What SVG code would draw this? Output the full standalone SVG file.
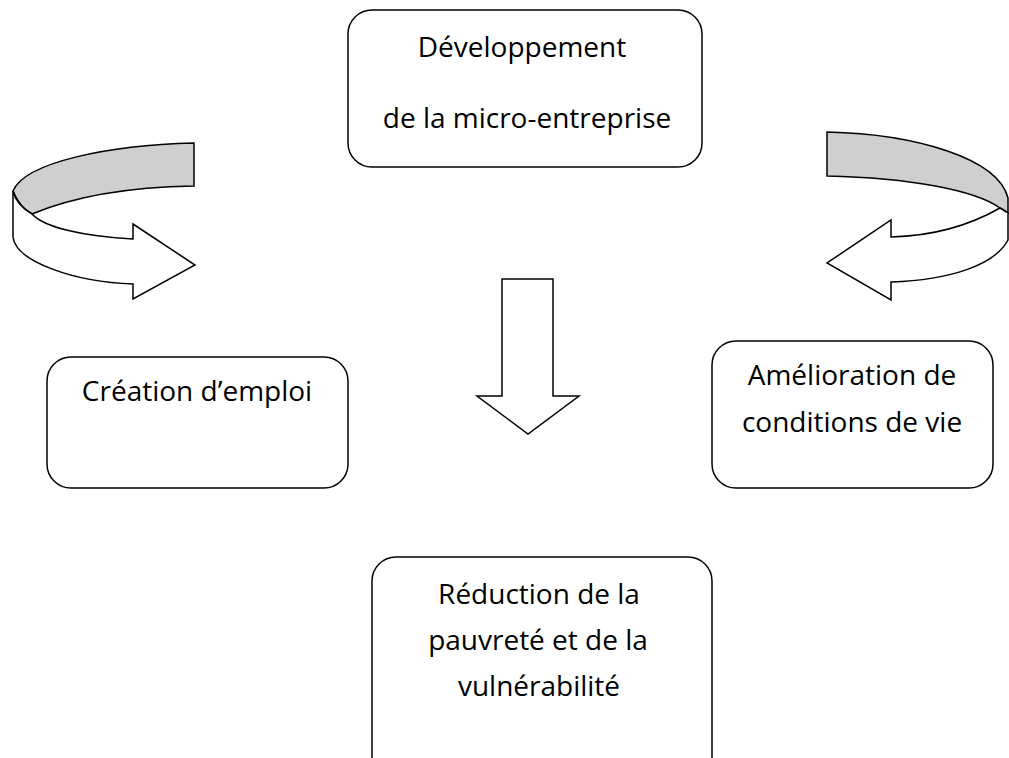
<svg xmlns="http://www.w3.org/2000/svg" width="1009" height="758" viewBox="0 0 1009 758">
<style>
.box{fill:#fff;stroke:#000;stroke-width:1.5}
.t{font-family:"Open Sans","Noto Sans",sans-serif;font-size:28px;fill:#000;text-anchor:middle}
.ar{stroke:#000;stroke-width:1.5;stroke-linejoin:miter}
.w{fill:#fff}
.g{fill:#cfcfcf}
</style>
<rect width="1009" height="758" fill="#fff"/>
<g id="connectors">
  <g id="arrow-left">
    <path class="ar g" d="M194,143 C110,145 25,162 13,191 C18,203 24,210 32,214 C75,196 130,187 194,186 Z"/>
    <path class="ar w" d="M13,191 L13,237 C16,262 75,282 133,284 L133,299 L195,265 L133,224 L133,239 C85,236 45,228 32,214 C22,208 15,200 13,191 Z"/>
  </g>
  <g id="arrow-right">
    <path class="ar g" d="M827,132 C915,134 998,158 1008,198 L1008,213 C1005,211 1002,209 1000,208 C975,190 910,178 827,176 Z"/>
    <path class="ar w" d="M1000,208 C965,228 930,236 891,237 L891,220 L827,263 L891,300 L891,282 C950,280 995,265 1008,240 L1008,213 C1005,211 1002,209 1000,208 Z"/>
  </g>
  <path id="arrow-down" class="ar w" d="M502,279 L553,279 L553,396 L579,396 L528,434 L477,396 L502,396 Z"/>
</g>
<g id="node-dev">
  <rect class="box" x="348" y="10" width="354" height="157" rx="24"/>
  <text class="t" x="522" y="57">Développement</text>
  <text class="t" x="527" y="128">de la micro-entreprise</text>
</g>
<g id="node-emploi">
  <rect class="box" x="47" y="357" width="301" height="131" rx="24"/>
  <text class="t" x="197" y="401">Création d’emploi</text>
</g>
<g id="node-vie">
  <rect class="box" x="712" y="341" width="281" height="147" rx="24"/>
  <text class="t" x="852" y="385">Amélioration de</text>
  <text class="t" x="852" y="432">conditions de vie</text>
</g>
<g id="node-reduction">
  <rect class="box" x="372" y="557" width="340" height="240" rx="24"/>
  <text class="t" x="539" y="604">Réduction de la</text>
  <text class="t" x="538" y="650">pauvreté et de la</text>
  <text class="t" x="539" y="696">vulnérabilité</text>
</g>
</svg>
